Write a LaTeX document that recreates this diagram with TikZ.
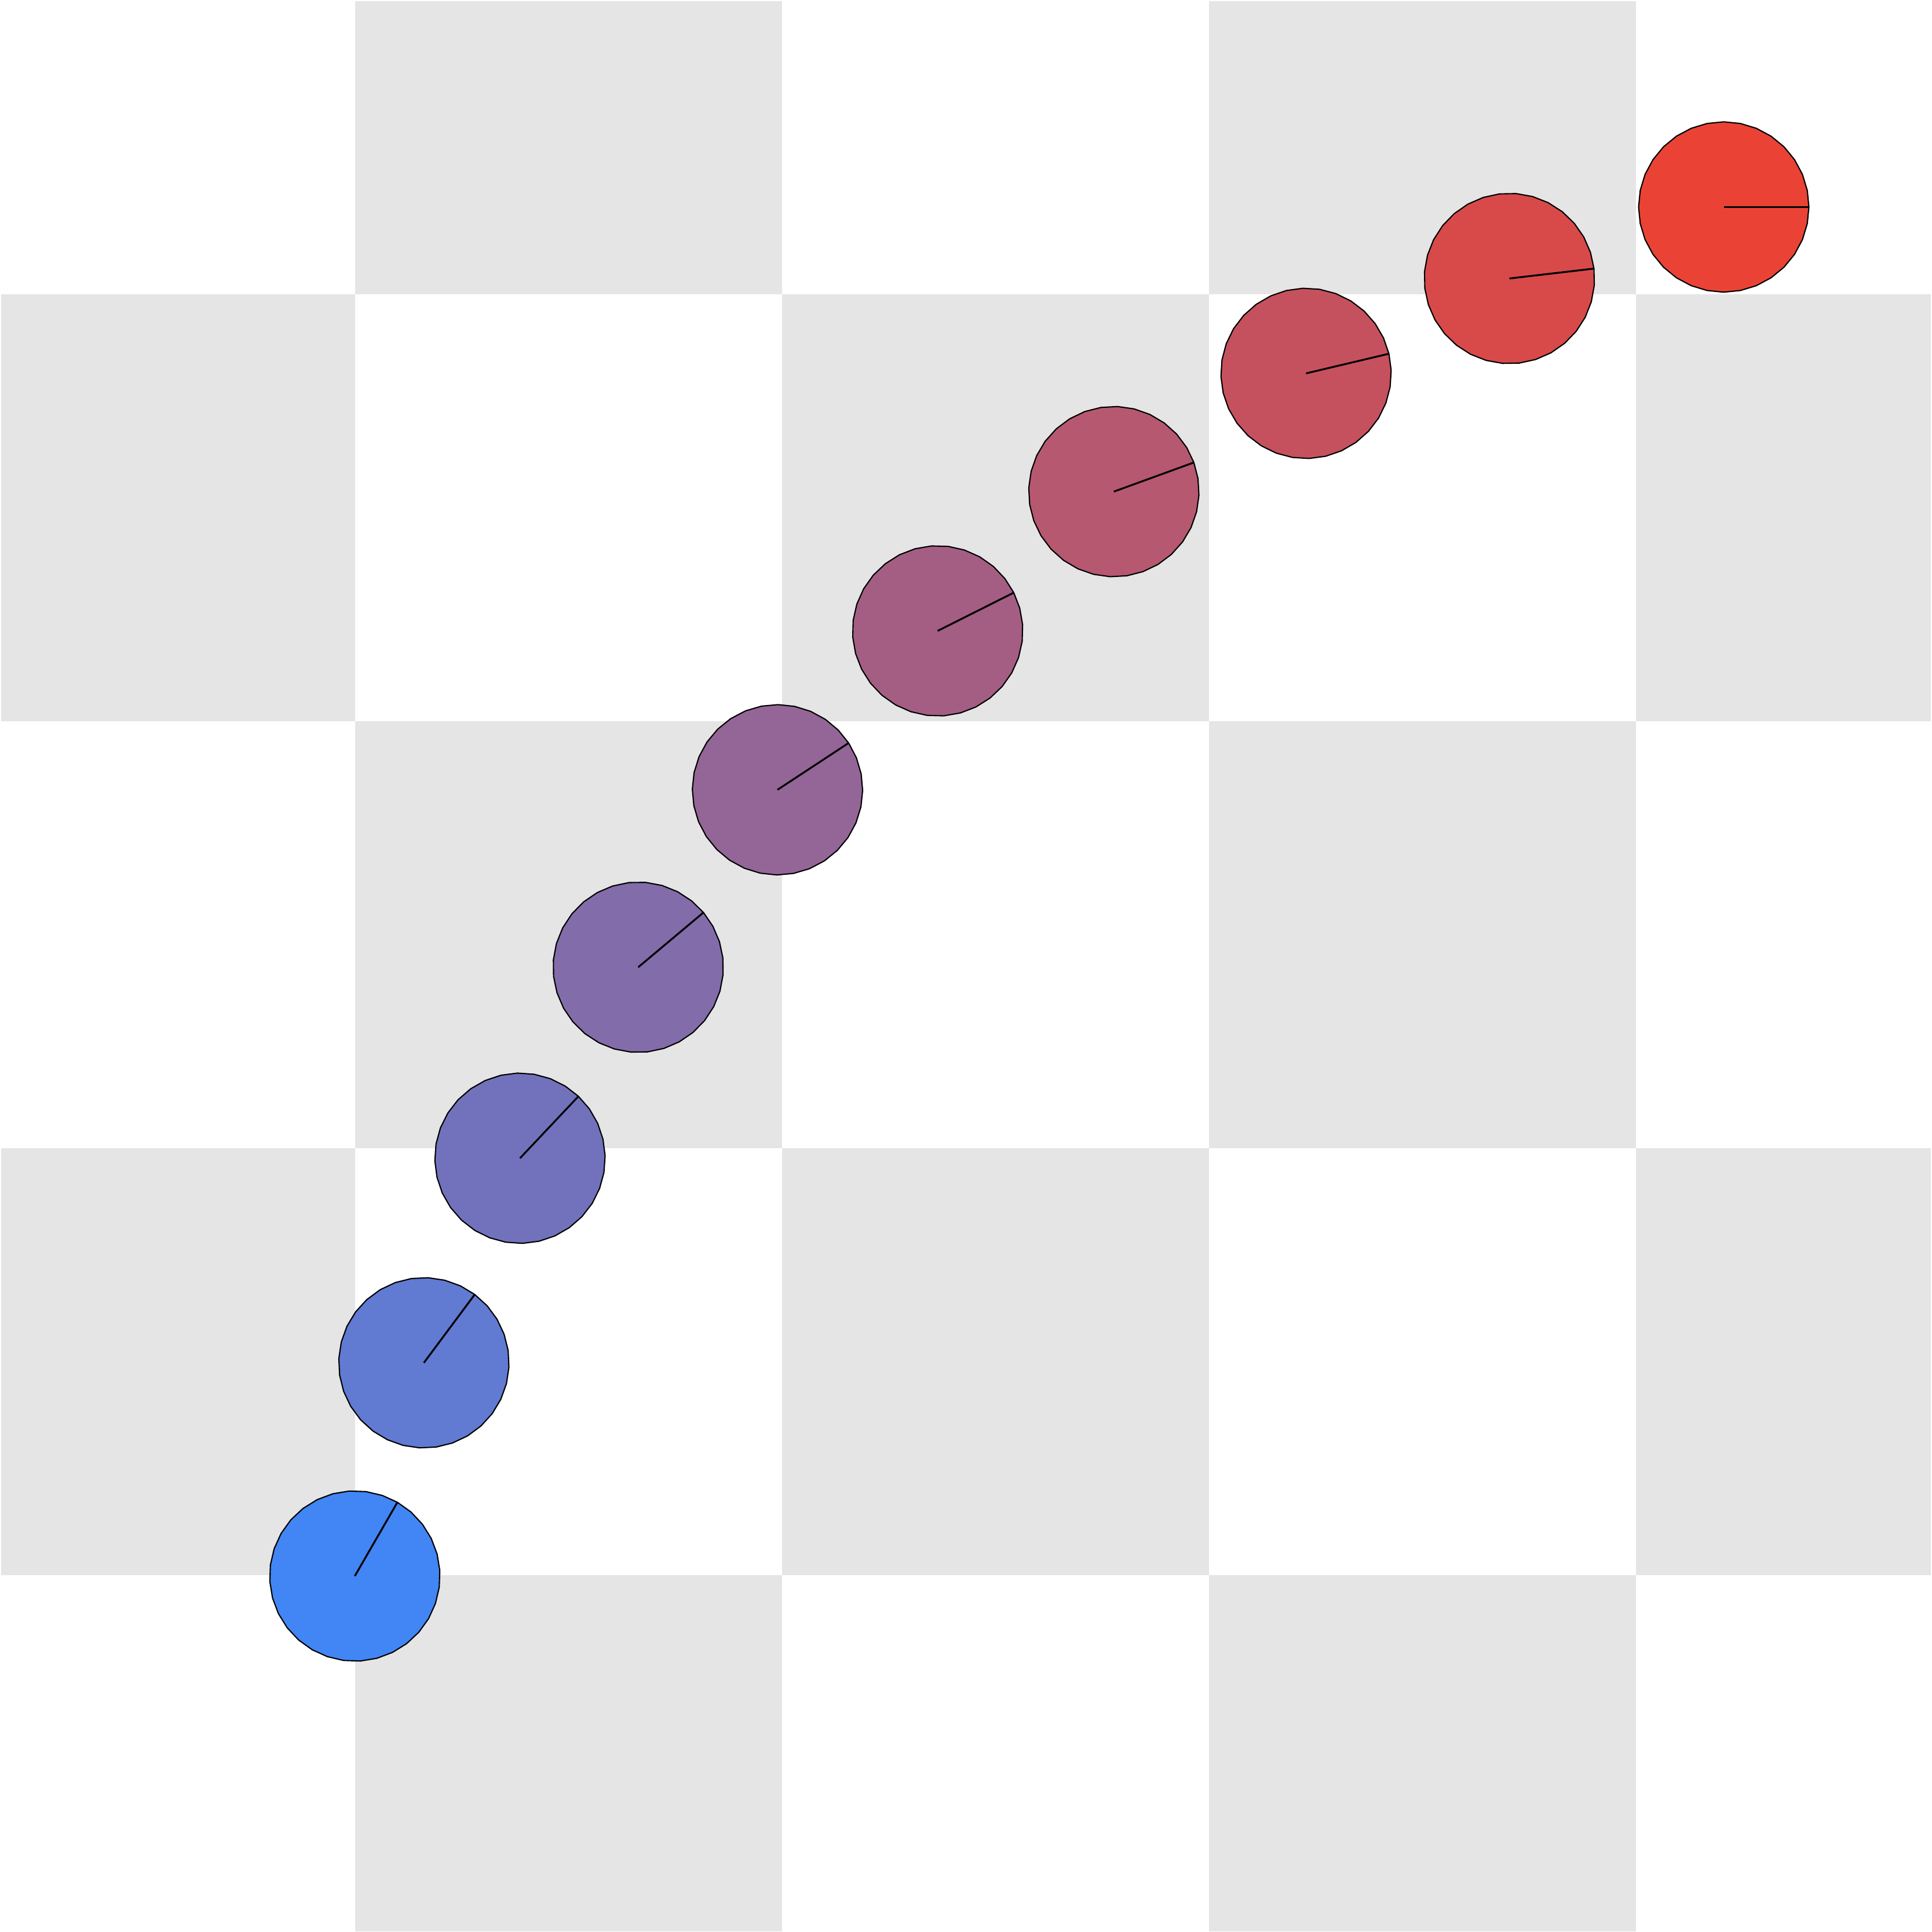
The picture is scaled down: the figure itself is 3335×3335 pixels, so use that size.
\documentclass[tikz,border=0pt]{standalone}
\definecolor{tilegray}{RGB}{229,229,229}
\definecolor{b0}{RGB}{66,133,244}
\definecolor{b1}{RGB}{97,122,210}
\definecolor{b2}{RGB}{114,114,188}
\definecolor{b3}{RGB}{131,108,170}
\definecolor{b4}{RGB}{148,101,151}
\definecolor{b5}{RGB}{165,94,131}
\definecolor{b6}{RGB}{182,88,112}
\definecolor{b7}{RGB}{198,81,94}
\definecolor{b8}{RGB}{216,74,74}
\definecolor{b9}{RGB}{234,67,53}
\tikzset{
  botshape/.style={draw=black, line width=0.6pt, line join=round},
  headline/.style={draw=black, line width=0.9pt},
  tile/.style={fill=tilegray, draw=none}
}
\begin{document}
\begin{tikzpicture}[x=0.01cm,y=-0.01cm]
\useasboundingbox (0,0) rectangle (3335,3335);
\fill[white] (0,0) rectangle (3335,3335);
\begin{scope}
\clip (2,2) rectangle (3333,3333);
\foreach \i in {0,...,4}{
  \foreach \j in {0,...,4}{
    \pgfmathtruncatemacro\tileparity{mod(\i+\j,2)}
    \ifnum\tileparity=1
      \fill[tile] ({612.8+(\i-1)*737.2},{507.5+(\j-1)*737}) rectangle ++(737.2,737);
    \fi
  }
}
\end{scope}
\foreach \cx/\cy/\h/\col [count=\n] in {
  612.5/2720.5/60/b0,
  731.7/2352.4/53.333/b1,
  897.6/1999.3/46.667/b2,
  1101.7/1669.6/40/b3,
  1342.1/1363.3/33.333/b4,
  1618.6/1089.0/26.667/b5,
  1922.7/848.6/20/b6,
  2254.5/644.5/13.333/b7,
  2605.5/480.7/6.667/b8,
  2975.5/357.3/0/b9}{
  \coordinate (c\n) at (\cx,\cy);
  \begin{scope}[shift={(c\n)}, rotate=\h]
    \draw[botshape, fill=\col] (0:147) \foreach \k in {1,...,31}{ -- (\k*11.25:147)} -- cycle;
    \coordinate (h\n) at (0:147);
  \end{scope}
  \draw[headline] (c\n) -- (h\n);
}
\end{tikzpicture}
\end{document}
